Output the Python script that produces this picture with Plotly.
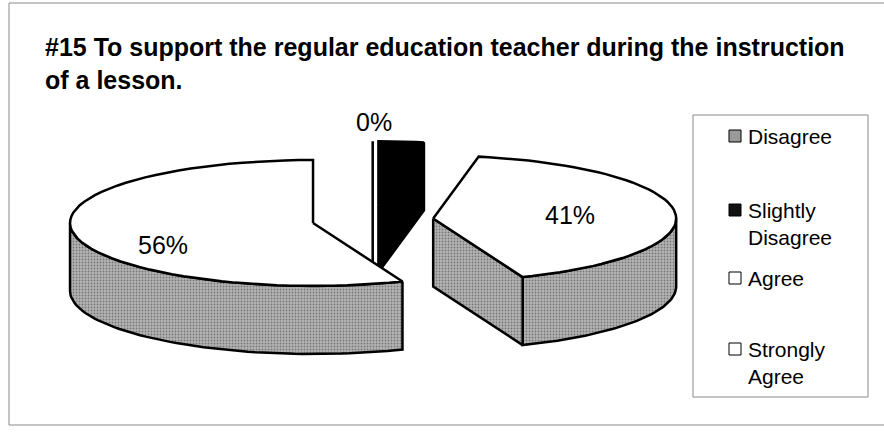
import math
import plotly.graph_objects as go

# ---------------- data ----------------
categories = ["Disagree", "Slightly Disagree", "Agree", "Strongly Agree"]
percent_values = [0, 3, 41, 56]
label_texts = ["0%", "", "41%", "56%"]          # the original shows no label for the 3% slice
legend_labels = ["Disagree", "Slightly<br>Disagree", "Agree", "Strongly<br>Agree"]
title_text = ("#15 To support the regular education teacher during the instruction"
              "<br>of a lesson.")

# ---------------- style / layout constants ----------------
FONT = "Liberation Sans, Arial, sans-serif"
top_colors = ["white", "black", "white", "white"]
side_colors = ["white", "black", "#a8a8a8", "#a8a8a8"]
legend_colors = ["#9a9a9a", "#111111", "white", "white"]
W, H = 884, 439
CX, CY = 372.7, 220.0        # pie centre (pixel space)
RX, RY = 243.0, 63.0         # ellipse radii of the tilted pie top
DEPTH = 68.0                 # pie thickness
EXPLODE = 0.25               # explosion as fraction of radius
label_pos = {"Disagree": (374, 122), "Agree": (570, 215), "Strongly Agree": (163, 245)}
legend_rows = [136, 210, 278, 349]
LEG_BOX = (693, 115, 868, 397)


def pt(cx, cy, deg, dz=0.0):
    t = math.radians(deg)
    return cx + RX * math.sin(t), cy - RY * math.cos(t) + dz


def arc(cx, cy, a0, a1, dz=0.0, n=60):
    pts = []
    for i in range(n + 1):
        pts.append(pt(cx, cy, a0 + (a1 - a0) * i / n, dz))
    return pts


fig = go.Figure()

total = float(sum(percent_values))
starts, ends = [], []
acc = 0.0
for v in percent_values:
    starts.append(acc / total * 360.0)
    acc += v
    ends.append(acc / total * 360.0)

# back-to-front drawing order (painter's algorithm)
order = sorted(range(len(categories)),
               key=lambda i: -math.cos(math.radians((starts[i] + ends[i]) / 2)))


def add_poly(pts, fill, name, pattern=False):
    xs = [p[0] for p in pts] + [pts[0][0]]
    ys = [p[1] for p in pts] + [pts[0][1]]
    kw = {}
    if pattern:
        kw["fillpattern"] = dict(shape=".", bgcolor="#b4b4b4", fgcolor="#3a3a3a",
                                 size=3, solidity=0.3)
    fig.add_trace(go.Scatter(x=xs, y=ys, mode="lines", fill="toself", fillcolor=fill,
                             line=dict(color="black", width=2.5), hoverinfo="skip",
                             name=name, showlegend=False, **kw))


for i in order:
    a0, a1 = starts[i], ends[i]
    mid = math.radians((a0 + a1) / 2)
    cx = CX + EXPLODE * RX * math.sin(mid)
    cy = CY - EXPLODE * RY * math.cos(mid)
    patt = side_colors[i] not in ("black", "white")
    # outer wall (front half only)
    s, e = max(a0, 90.0), min(a1, 270.0)
    if e > s:
        wall = arc(cx, cy, s, e) + arc(cx, cy, e, s, DEPTH)
        add_poly(wall, side_colors[i], categories[i], patt)
    # radial cut faces that face the viewer
    c_top, c_bot = (cx, cy), (cx, cy + DEPTH)
    if a1 - a0 <= 0:
        p = pt(cx, cy, a0)
        add_poly([c_top, p, (p[0], p[1] + DEPTH), c_bot], side_colors[i], categories[i])
        continue
    if 0 < a1 < 180:
        p = pt(cx, cy, a1)
        add_poly([c_top, p, (p[0], p[1] + DEPTH), c_bot], side_colors[i], categories[i], patt)
    if 180 < a0 < 360:
        p = pt(cx, cy, a0)
        add_poly([c_top, p, (p[0], p[1] + DEPTH), c_bot], side_colors[i], categories[i], patt)
    # top face
    add_poly([c_top] + arc(cx, cy, a0, a1), top_colors[i], categories[i])

annotations = []
for cat, txt in zip(categories, label_texts):
    if txt and cat in label_pos:
        x, y = label_pos[cat]
        annotations.append(dict(x=x, y=y, text=txt, showarrow=False, xanchor="center",
                                yanchor="middle", font=dict(family=FONT, size=25, color="black")))

# title
annotations.append(dict(x=43, y=63, text="<b>" + title_text + "</b>", showarrow=False,
                        xanchor="left", yanchor="middle", align="left",
                        font=dict(family=FONT, size=25, color="black")))

shapes = []
# outer chart frame
shapes.append(dict(type="rect", x0=9, y0=3, x1=W + 10, y1=425,
                   line=dict(color="#8a8a8a", width=1), layer="below"))
# legend
shapes.append(dict(type="rect", x0=LEG_BOX[0], y0=LEG_BOX[1], x1=LEG_BOX[2], y1=LEG_BOX[3],
                   line=dict(color="#8a8a8a", width=1), fillcolor="white", layer="below"))
for lab, col, ry in zip(legend_labels, legend_colors, legend_rows):
    shapes.append(dict(type="rect", x0=729, y0=ry - 6, x1=741, y1=ry + 6,
                       line=dict(color="black", width=1), fillcolor=col))
    annotations.append(dict(x=746, y=ry - 13, text=lab, showarrow=False, xanchor="left",
                            yanchor="top", align="left",
                            font=dict(family=FONT, size=21, color="black")))

fig.update_layout(
    width=W, height=H, margin=dict(l=0, r=0, t=0, b=0),
    paper_bgcolor="white", plot_bgcolor="white",
    xaxis=dict(range=[0, W], visible=False, fixedrange=True),
    yaxis=dict(range=[H, 0], visible=False, fixedrange=True),
    annotations=annotations, shapes=shapes, showlegend=False,
)

fig.write_html("out.html", config={"displayModeBar": False},
               post_script="document.body.style.margin='0';document.body.style.overflow='hidden';")
